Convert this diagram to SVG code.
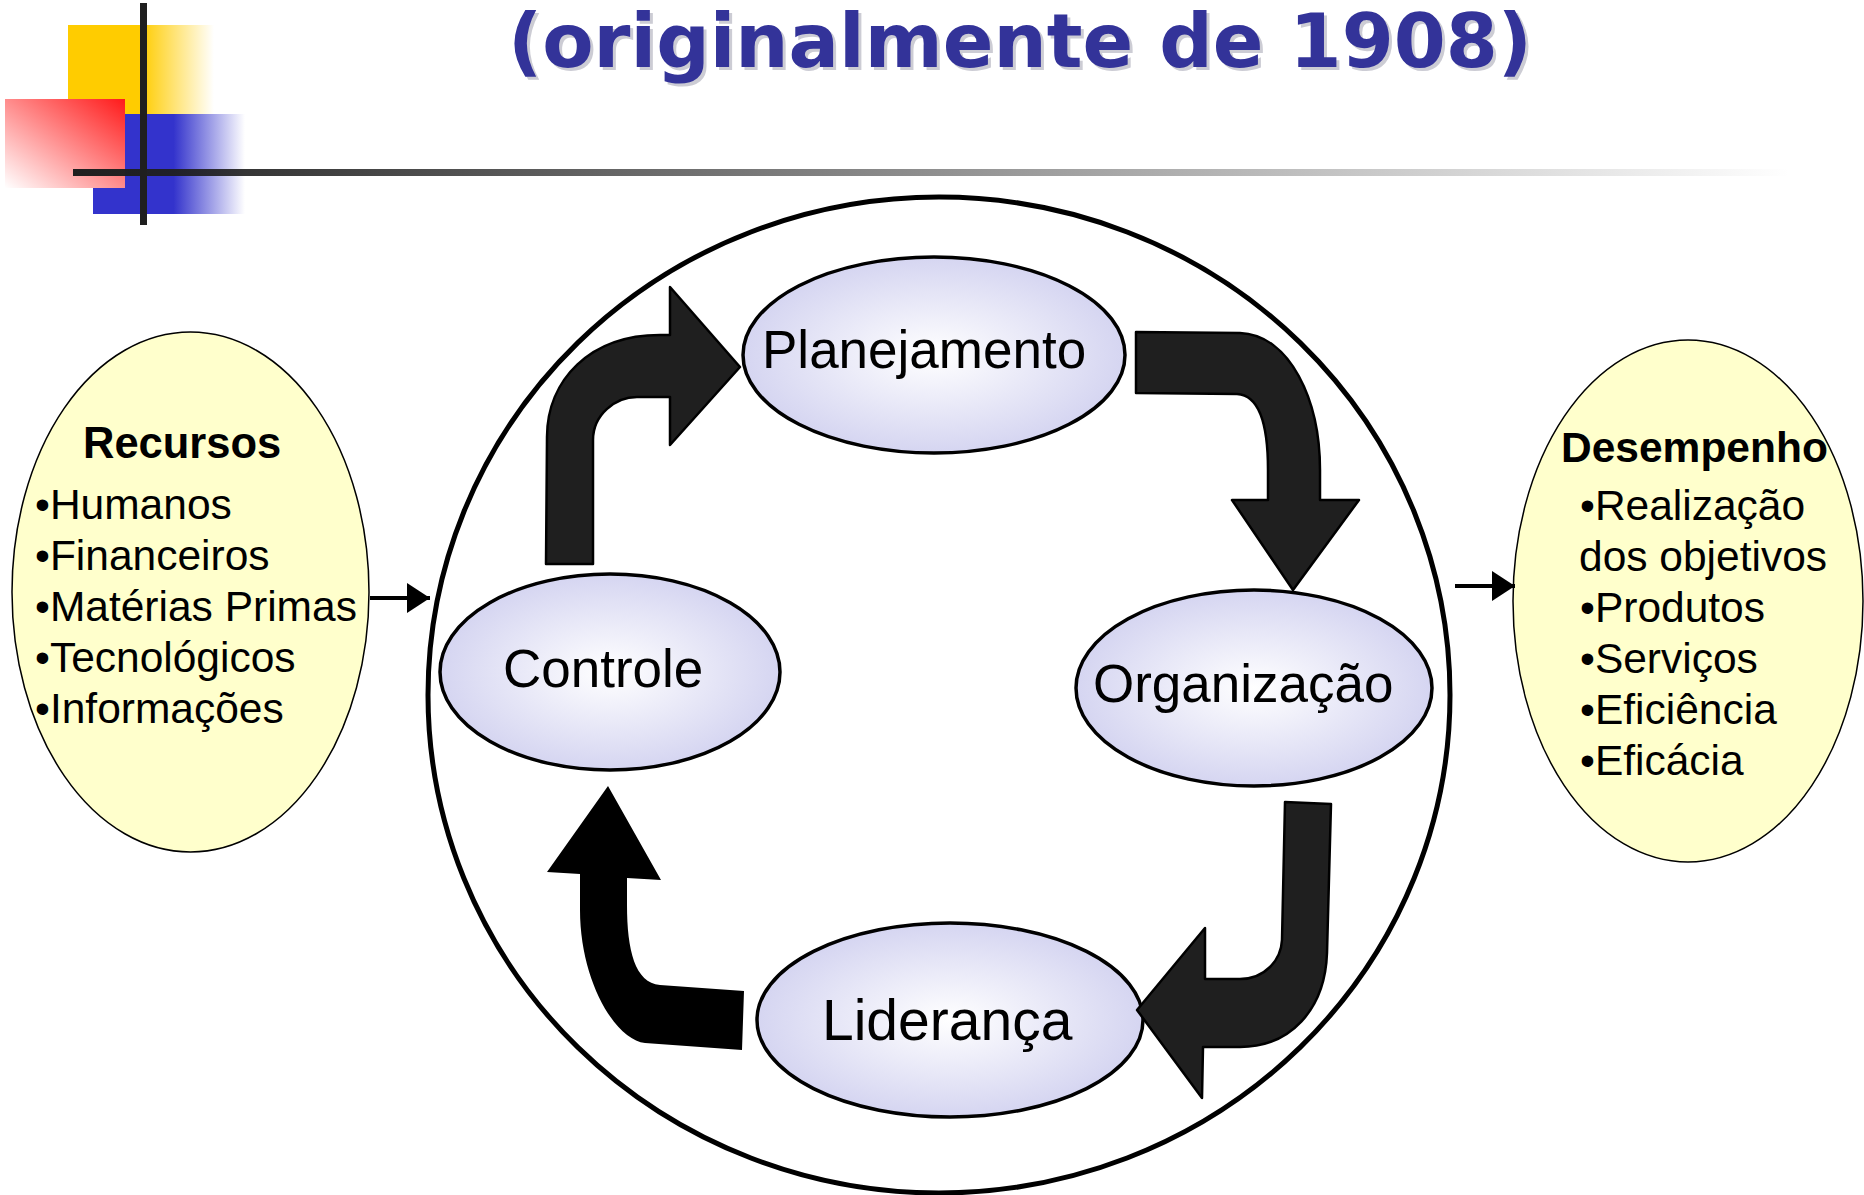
<svg xmlns="http://www.w3.org/2000/svg" width="1864" height="1195" viewBox="0 0 1864 1195">
  <style>
    .txt { font-family: "Liberation Sans", Arial, sans-serif; fill: #000; }
    .node { font-size: 53px; }
    .list { font-size: 42.5px; }
    .head { font-size: 43px; font-weight: bold; }
    .cyc { fill: url(#lav); stroke: #000; stroke-width: 3.5; }
    .res { fill: #ffffcc; stroke: #000; stroke-width: 1.5; }
    .bend { fill: #1f1f1f; stroke: #000; stroke-width: 2.5; stroke-linejoin: round; }
    .link { stroke: #000; stroke-width: 4; fill: none; marker-end: url(#tip); }
    .title { font-family: "DejaVu Sans", Verdana, sans-serif; font-weight: bold; font-size: 75px; }
  </style>
  <defs>
    <radialGradient id="lav" cx="50%" cy="50%" r="50%">
      <stop offset="0" stop-color="#ffffff"/>
      <stop offset="1" stop-color="#d5d5f1"/>
    </radialGradient>
    <linearGradient id="yel" x1="0" y1="0" x2="1" y2="0">
      <stop offset="0" stop-color="#ffcc00"/>
      <stop offset="0.5" stop-color="#ffcc00"/>
      <stop offset="1" stop-color="#ffcc00" stop-opacity="0"/>
    </linearGradient>
    <linearGradient id="blu" x1="0" y1="0" x2="1" y2="0">
      <stop offset="0" stop-color="#3333cc"/>
      <stop offset="0.53" stop-color="#3333cc"/>
      <stop offset="1" stop-color="#3333cc" stop-opacity="0"/>
    </linearGradient>
    <linearGradient id="red" x1="1" y1="0" x2="0" y2="1">
      <stop offset="0" stop-color="#ff1a1a"/>
      <stop offset="1" stop-color="#ffffff"/>
    </linearGradient>
    <linearGradient id="rule" gradientUnits="userSpaceOnUse" x1="73" y1="0" x2="1790" y2="0">
      <stop offset="0" stop-color="#1f1f1f"/>
      <stop offset="1" stop-color="#1f1f1f" stop-opacity="0"/>
    </linearGradient>
    <marker id="tip" markerUnits="userSpaceOnUse" markerWidth="23" markerHeight="30" viewBox="0 0 23 30" refX="23" refY="15" orient="auto">
      <path d="M0,0 L23,15 L0,30 Z" fill="#000"/>
    </marker>
  </defs>

  <rect width="1864" height="1195" fill="#ffffff"/>

  <g id="decor">
    <rect x="68" y="25" width="146" height="89" fill="url(#yel)"/>
    <rect x="93" y="114" width="152" height="100" fill="url(#blu)"/>
    <rect x="5" y="99" width="120" height="89" fill="url(#red)"/>
    <rect x="73" y="169" width="1717" height="7" fill="url(#rule)"/>
    <rect x="140" y="3" width="7" height="222" fill="#1f1f1f"/>
  </g>

  <g id="title">
    <text class="title" x="511" y="70" fill="#9a9aaa" fill-opacity="0.5" textLength="1024" lengthAdjust="spacingAndGlyphs">(originalmente de 1908)</text>
    <text class="title" x="508" y="67" fill="#333399" textLength="1024" lengthAdjust="spacingAndGlyphs">(originalmente de 1908)</text>
  </g>

  <g id="n-sistema">
    <ellipse cx="939" cy="695" rx="511" ry="498" fill="none" stroke="#000" stroke-width="5"/>
  </g>

  <g id="n-recursos">
    <ellipse class="res" cx="190.5" cy="592" rx="178.5" ry="260"/>
    <text class="txt head" x="83" y="458" style="font-size:43.5px">Recursos</text>
    <text class="txt list" x="35" y="519">•Humanos</text>
    <text class="txt list" x="35" y="570">•Financeiros</text>
    <text class="txt list" x="35" y="621">•Matérias Primas</text>
    <text class="txt list" x="35" y="672">•Tecnológicos</text>
    <text class="txt list" x="35" y="723">•Informações</text>
  </g>

  <g id="n-desempenho">
    <ellipse class="res" cx="1688" cy="601" rx="175" ry="261"/>
    <text class="txt head" x="1561" y="462" style="font-size:42.5px">Desempenho</text>
    <text class="txt list" x="1580" y="520">•Realização</text>
    <text class="txt list" x="1579" y="571">dos objetivos</text>
    <text class="txt list" x="1580" y="622">•Produtos</text>
    <text class="txt list" x="1580" y="673">•Serviços</text>
    <text class="txt list" x="1580" y="724">•Eficiência</text>
    <text class="txt list" x="1580" y="775">•Eficácia</text>
  </g>

  <g id="n-planejamento">
    <ellipse class="cyc" cx="934" cy="355" rx="191" ry="98"/>
    <text class="txt node" x="762" y="368">Planejamento</text>
  </g>

  <g id="n-organizacao">
    <ellipse class="cyc" cx="1254" cy="688" rx="178" ry="98"/>
    <text class="txt node" x="1093" y="702">Organização</text>
  </g>

  <g id="n-lideranca">
    <ellipse class="cyc" cx="950" cy="1020" rx="193" ry="97"/>
    <text class="txt node" x="822" y="1040" style="font-size:57px">Liderança</text>
  </g>

  <g id="n-controle">
    <ellipse class="cyc" cx="610" cy="672" rx="170" ry="98"/>
    <text class="txt node" x="503" y="687">Controle</text>
  </g>

  <g id="connectors">
    <line class="link" x1="370" y1="598" x2="430" y2="598"/>
    <line class="link" x1="1455" y1="586" x2="1515" y2="586"/>
    <path class="bend" d="M546,564 L547,437 C547,380 590,335 660,335 L670,335 L670,287 L740,367 L670,445 L670,397 L637,397 C615,397 593,415 593,440 L593,564 Z"/>
    <path class="bend" d="M1136,332 L1240,333 C1290,335 1320,400 1320,470 L1320,500 L1359,500 L1293,590 L1232,500 L1268,500 L1268,470 C1268,420 1258,395 1237,394 L1136,393 Z"/>
    <path class="bend" d="M1285,802 L1331,804 L1327,953 C1325,1010 1290,1047 1240,1047 L1203,1047 L1202,1098 L1137,1010 L1205,928 L1205,979 L1240,979 C1265,979 1281,960 1282,940 Z"/>
    <path fill="#000" d="M744,991 L742,1050 L645,1043 C615,1040 580,980 580,910 L580,874 L547,872 L608,786 L661,880 L627,878 L627,905 C627,950 635,983 660,985 Z"/>
  </g>
</svg>
